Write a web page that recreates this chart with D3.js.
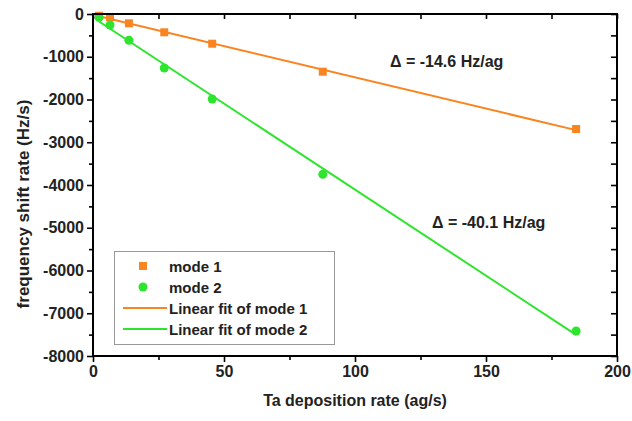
<!DOCTYPE html>
<html>
<head>
<meta charset="utf-8">
<script src="https://cdn.jsdelivr.net/npm/d3@7"></script>
<style>
  body { margin: 0; background: #fff; }
  text { font-family: 'Liberation Sans', Arial, sans-serif; font-weight: bold; fill: #222; }
</style>
</head>
<body>
<div id="chart"></div>
<script>
// deposition rates (ag/s) and frequency shift rates (Hz/s)
let rates = [2.3, 6.5, 13.7, 27.2, 45.5, 87.7, 184.4]
let mode1 = [-40, -77, -218, -428, -695, -1350, -2690]
let mode2 = [-80, -257, -615, -1263, -1988, -3750, -7415]
let xTicks = [0, 50, 100, 150, 200]
let yTicks = [0, -1000, -2000, -3000, -4000, -5000, -6000, -7000, -8000]
let legendLabels = ['mode 1', 'mode 2', 'Linear fit of mode 1', 'Linear fit of mode 2']
let notes = ['\u0394 = -14.6 Hz/ag', '\u0394 = -40.1 Hz/ag']

let width = 632
let height = 421
let margin = { left: 93, right: 15, top: 14, bottom: 65 }
let orange = '#fa8420'
let green = '#2ee52e'

let svg = d3.select('#chart')
  .append('svg')
  .attr('width', width)
  .attr('height', height)

let x = d3.scaleLinear().domain([0, 200]).range([margin.left, width - margin.right])
let y = d3.scaleLinear().domain([-8000, 0]).range([height - margin.bottom, margin.top])

// least squares fit
function fit (xs, ys) {
  let mx = d3.mean(xs)
  let my = d3.mean(ys)
  let sxy = d3.sum(xs, (v, i) => (v - mx) * (ys[i] - my))
  let sxx = d3.sum(xs, v => (v - mx) * (v - mx))
  let k = sxy / sxx
  return { k: k, b: my - k * mx }
}

let line = d3.line().x(d => x(d[0])).y(d => y(d[1]))
let ext = d3.extent(rates)

;[[mode1, orange], [mode2, green]].forEach(function (s) {
  let f = fit(rates, s[0])
  svg.append('path')
    .attr('d', line(ext.map(v => [v, f.k * v + f.b])))
    .attr('fill', 'none')
    .attr('stroke', s[1])
    .attr('stroke-width', 2)
})

svg.append('g')
  .selectAll('rect')
  .data(rates)
  .enter()
  .append('rect')
  .attr('x', (d, i) => x(d) - 4)
  .attr('y', (d, i) => y(mode1[i]) - 4)
  .attr('width', 8)
  .attr('height', 8)
  .attr('fill', orange)

svg.append('g')
  .selectAll('circle')
  .data(rates)
  .enter()
  .append('circle')
  .attr('cx', d => x(d))
  .attr('cy', (d, i) => y(mode2[i]))
  .attr('r', 4.5)
  .attr('fill', green)

// axes
let xMinor = d3.range(25, 200, 50)
let yMinor = d3.range(-7500, 0, 1000)
let plain = d => String(d)
function styleAxis (g) {
  g.select('.domain').remove()
  g.selectAll('.tick line').attr('stroke', '#000').attr('stroke-width', 1.6)
  g.selectAll('.tick text').style('font-size', '16px').attr('fill', '#222')
}
svg.append('g')
  .attr('transform', 'translate(0,' + y(-8000) + ')')
  .call(d3.axisBottom(x).tickValues(xTicks).tickSize(6).tickPadding(4).tickFormat(plain))
  .call(styleAxis)
svg.append('g')
  .attr('transform', 'translate(0,' + y(-8000) + ')')
  .call(d3.axisBottom(x).tickValues(xMinor).tickSize(4).tickFormat(''))
  .call(styleAxis)
svg.append('g')
  .attr('transform', 'translate(' + x(0) + ',0)')
  .call(d3.axisLeft(y).tickValues(yTicks).tickSize(6).tickPadding(3).tickFormat(plain))
  .call(styleAxis)
svg.append('g')
  .attr('transform', 'translate(' + x(0) + ',0)')
  .call(d3.axisLeft(y).tickValues(yMinor).tickSize(4).tickFormat(''))
  .call(styleAxis)
svg.append('g')
  .attr('transform', 'translate(0,' + y(0) + ')')
  .call(d3.axisBottom(x).tickValues(xTicks.concat(xMinor)).tickSize(5).tickFormat(''))
  .call(styleAxis)
svg.append('g')
  .attr('transform', 'translate(' + x(200) + ',0)')
  .call(d3.axisRight(y).tickValues(yTicks.concat(yMinor)).tickSize(-6).tickFormat(''))
  .call(styleAxis)

svg.append('rect')
  .attr('x', x(0))
  .attr('y', y(0))
  .attr('width', x(200) - x(0))
  .attr('height', y(-8000) - y(0))
  .attr('fill', 'none')
  .attr('stroke', '#000')
  .attr('stroke-width', 2)

svg.append('text')
  .attr('x', (x(0) + x(200)) / 2)
  .attr('y', 406)
  .attr('text-anchor', 'middle')
  .style('font-size', '16px')
  .text('Ta deposition rate (ag/s)')

svg.append('text')
  .attr('transform', 'translate(29,204) rotate(-90)')
  .attr('text-anchor', 'middle')
  .style('font-size', '17px')
  .text('frequency shift rate (Hz/s)')

// annotations
svg.append('text').attr('x', 390).attr('y', 67).style('font-size', '16px').text(notes[0])
svg.append('text').attr('x', 432).attr('y', 228).style('font-size', '16px').text(notes[1])

// legend
let lg = svg.append('g')
lg.append('rect')
  .attr('x', 114.5).attr('y', 251.5)
  .attr('width', 220).attr('height', 93)
  .attr('fill', '#fff')
  .attr('stroke', '#999')
let rowY = [266, 287, 308, 329]
lg.append('rect').attr('x', 139).attr('y', rowY[0] - 4).attr('width', 8).attr('height', 8).attr('fill', orange)
lg.append('circle').attr('cx', 143).attr('cy', rowY[1]).attr('r', 4.5).attr('fill', green)
lg.append('line').attr('x1', 123).attr('x2', 167).attr('y1', rowY[2]).attr('y2', rowY[2]).attr('stroke', orange).attr('stroke-width', 2)
lg.append('line').attr('x1', 123).attr('x2', 167).attr('y1', rowY[3]).attr('y2', rowY[3]).attr('stroke', green).attr('stroke-width', 2)
lg.selectAll('text.lab')
  .data(legendLabels)
  .enter()
  .append('text')
  .attr('class', 'lab')
  .attr('x', 169)
  .attr('y', (d, i) => rowY[i] + 5.5)
  .style('font-size', '15px')
  .text(d => d)
</script>
</body>
</html>
